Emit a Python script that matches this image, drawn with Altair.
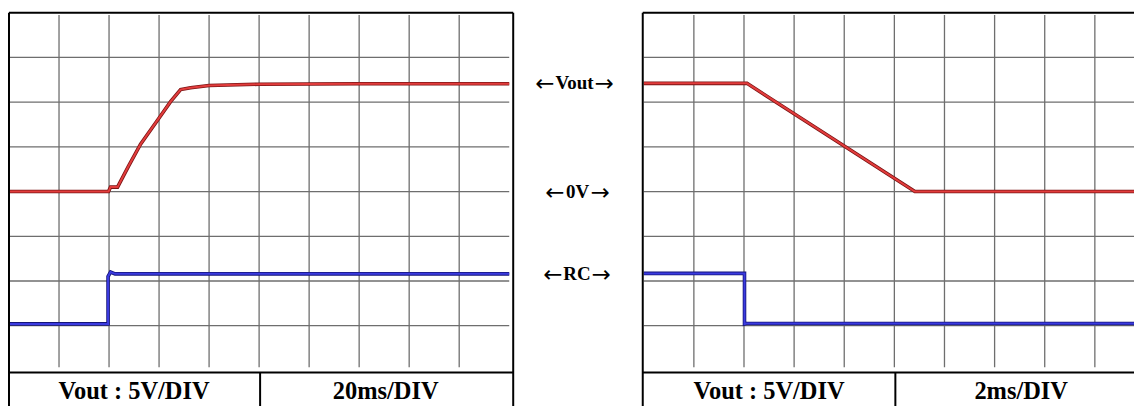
import altair as alt
import pandas as pd

# ---- data (in scope divisions: x 0..10, y 0..8) ----
left_red_x = [0, 1.99, 2.03, 2.17, 2.39, 2.63, 2.99, 3.23, 3.43, 3.63, 4.0, 5.0, 7.0, 10.0]
left_red_y = [4.0, 4.0, 4.1, 4.1, 4.57, 5.06, 5.63, 6.01, 6.28, 6.32, 6.37, 6.40, 6.41, 6.41]
left_blue_x = [0, 1.98, 1.98, 2.03, 2.12, 10.0]
left_blue_y = [1.04, 1.04, 2.1, 2.2, 2.16, 2.16]

right_red_x = [0, 2.06, 5.41, 10.04]
right_red_y = [6.42, 6.42, 4.0, 4.0]
right_blue_x = [0, 2.01, 2.01, 2.05, 10.04]
right_blue_y = [2.17, 2.17, 1.04, 1.05, 1.05]

left_labels = ["Vout : 5V/DIV", "20ms/DIV"]
right_labels = ["Vout : 5V/DIV", "2ms/DIV"]
middle_labels = ["Vout", "0V", "RC"]
middle_levels = [6.42, 4.0, 2.16]

grid_cols = [1, 2, 3, 4, 5, 6, 7, 8, 9, 10]
grid_rows = [1, 2, 3, 4, 5, 6, 7]

# ---- geometry / style ----
H = 395
PX_Y = 44.875
Y_DOM = [8 - H / PX_Y, 8]
W_LEFT = 506
W_MID = 128
W_RIGHT = 493
LABEL_LINE_Y = -0.045
LABEL_TEXT_Y = -0.646
GRID = "#6e6e6e"
FONT = "Liberation Serif"
# word centre and half-width inside the middle strip (pixels)
MID_CENTER = [60.5, 63.5, 63.0]
MID_HALF = [20.0, 13.0, 14.5]


def trace(xs, ys, dark, light, xs_scale, ys_scale):
    df = pd.DataFrame({"x": xs, "y": ys, "i": range(len(xs))})
    base = alt.Chart(df)
    enc = dict(x=alt.X("x:Q", scale=xs_scale), y=alt.Y("y:Q", scale=ys_scale), order="i:Q")
    under = base.mark_line(color=dark, strokeWidth=3.6, strokeJoin="miter", clip=True).encode(**enc)
    over = base.mark_line(color=light, strokeWidth=2.0, strokeJoin="miter", clip=True).encode(**enc)
    return [under, over]


def panel(red, blue, labels, x0, px_x, width, right_border, ncols):
    xdom = [x0, x0 + width / px_x]
    xs = alt.Scale(domain=xdom, nice=False, zero=False)
    ys = alt.Scale(domain=Y_DOM, nice=False, zero=False)

    vgrid = alt.Chart(pd.DataFrame({"x": grid_cols[:ncols], "y1": 0.07, "y2": 7.95})).mark_rule(
        color=GRID, strokeWidth=1.3, clip=True
    ).encode(x=alt.X("x:Q", scale=xs, axis=None), y=alt.Y("y1:Q", scale=ys, axis=None), y2="y2:Q")
    hgrid = alt.Chart(pd.DataFrame({"y": grid_rows, "x1": 0.0, "x2": 10.0})).mark_rule(
        color=GRID, strokeWidth=1.3, clip=True
    ).encode(y=alt.Y("y:Q", scale=ys, axis=None), x=alt.X("x1:Q", scale=xs, axis=None), x2="x2:Q")

    layers = [vgrid, hgrid]
    layers += trace(red[0], red[1], "#7c1515", "#e23c3c", xs, ys)
    layers += trace(blue[0], blue[1], "#14147a", "#3b3be0", xs, ys)

    frame = alt.Chart(pd.DataFrame({"k": [0]}))
    layers.append(frame.mark_rule(color="black", strokeWidth=2).encode(
        x=alt.value(0), y=alt.value(0), y2=alt.value(H)))
    if right_border:
        layers.append(frame.mark_rule(color="black", strokeWidth=2).encode(
            x=alt.value(width), y=alt.value(0), y2=alt.value(H)))
    layers.append(frame.mark_rule(color="black", strokeWidth=2).encode(
        y=alt.value(0), x=alt.value(0), x2=alt.value(width)))
    layers.append(frame.mark_rule(color="black", strokeWidth=2).encode(
        y=alt.Y("ly:Q", scale=ys), x=alt.value(0), x2=alt.value(width)
    ).transform_calculate(ly=str(LABEL_LINE_Y)))
    layers.append(frame.mark_rule(color="black", strokeWidth=2).encode(
        x=alt.X("dx:Q", scale=xs), y=alt.Y("ly:Q", scale=ys), y2=alt.value(H)
    ).transform_calculate(ly=str(LABEL_LINE_Y), dx="5.02"))
    lab = pd.DataFrame({"t": labels, "x": [2.5, 7.53], "y": [LABEL_TEXT_Y, LABEL_TEXT_Y]})
    layers.append(alt.Chart(lab).mark_text(
        font=FONT, fontSize=24.5, fontWeight="bold", baseline="alphabetic", align="center", color="black"
    ).encode(x=alt.X("x:Q", scale=xs), y=alt.Y("y:Q", scale=ys), text="t:N"))

    return alt.layer(*layers).properties(width=width, height=H)


left = panel((left_red_x, left_red_y), (left_blue_x, left_blue_y), left_labels,
             0.0, 50.2, W_LEFT, True, 9)
right = panel((right_red_x, right_red_y), (right_blue_x, right_blue_y), right_labels,
              -0.02, 50.3, W_RIGHT, False, 10)

mid_df = pd.DataFrame({
    "t": middle_labels,
    "y": middle_levels,
    "xc": MID_CENTER,
    "xl": [c - h for c, h in zip(MID_CENTER, MID_HALF)],
    "xr": [c + h for c, h in zip(MID_CENTER, MID_HALF)],
    "la": ["←"] * 3,
    "ra": ["→"] * 3,
})
mx = alt.Scale(domain=[0, W_MID], nice=False, zero=False)
my = alt.Scale(domain=Y_DOM, nice=False, zero=False)
mbase = alt.Chart(mid_df)
words = mbase.mark_text(
    font=FONT, fontSize=19, fontWeight="bold", baseline="middle", align="center", color="black"
).encode(x=alt.X("xc:Q", scale=mx, axis=None), y=alt.Y("y:Q", scale=my, axis=None), text="t:N")
larr = mbase.mark_text(
    font="DejaVu Sans", fontSize=23, baseline="middle", align="right", color="black", dy=1
).encode(x=alt.X("xl:Q", scale=mx), y=alt.Y("y:Q", scale=my), text="la:N")
rarr = mbase.mark_text(
    font="DejaVu Sans", fontSize=23, baseline="middle", align="left", color="black", dy=1
).encode(x=alt.X("xr:Q", scale=mx), y=alt.Y("y:Q", scale=my), text="ra:N")
middle = alt.layer(words, larr, rarr).properties(width=W_MID, height=H)

chart = alt.hconcat(left, middle, right, spacing=0).properties(
    padding={"top": 3, "left": 0, "right": 0, "bottom": 0}, background="white"
).configure_view(strokeWidth=0)

chart.save("out.html", embed_options={"renderer": "svg", "actions": False})
